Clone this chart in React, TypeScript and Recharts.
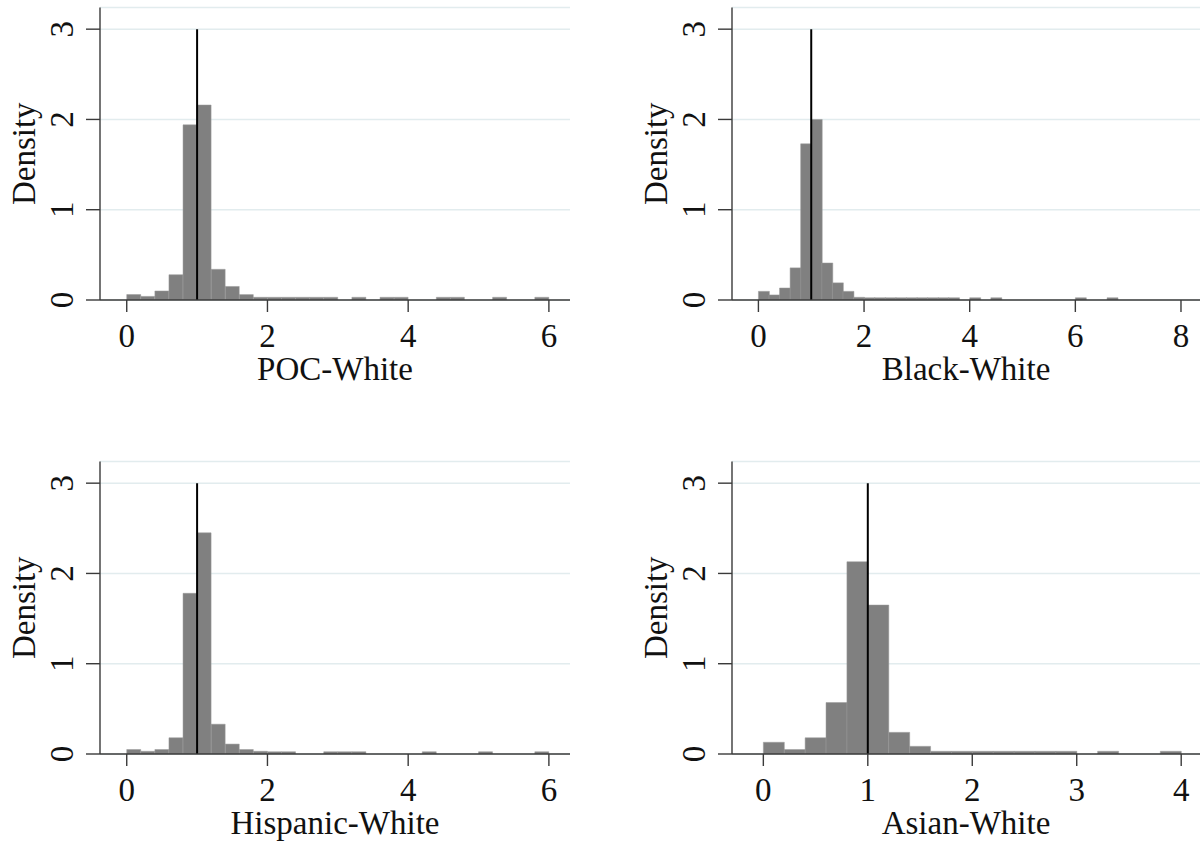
import React from 'react';
import { ComposedChart, Bar, XAxis, YAxis, CartesianGrid, ReferenceLine } from 'recharts';

// bin centres (bin width 0.2)
const binsTo6 = [0.1, 0.3, 0.5, 0.7, 0.9, 1.1, 1.3, 1.5, 1.7, 1.9, 2.1, 2.3, 2.5, 2.7, 2.9, 3.1, 3.3, 3.5, 3.7, 3.9, 4.1, 4.3, 4.5, 4.7, 4.9, 5.1, 5.3, 5.5, 5.7, 5.9];
const binsTo7 = [0.1, 0.3, 0.5, 0.7, 0.9, 1.1, 1.3, 1.5, 1.7, 1.9, 2.1, 2.3, 2.5, 2.7, 2.9, 3.1, 3.3, 3.5, 3.7, 3.9, 4.1, 4.3, 4.5, 4.7, 4.9, 5.1, 5.3, 5.5, 5.7, 5.9, 6.1, 6.3, 6.5, 6.7];
const binsTo4 = [0.1, 0.3, 0.5, 0.7, 0.9, 1.1, 1.3, 1.5, 1.7, 1.9, 2.1, 2.3, 2.5, 2.7, 2.9, 3.1, 3.3, 3.5, 3.7, 3.9];

// densities
const pocWhite = [0.06, 0.04, 0.1, 0.28, 1.94, 2.16, 0.34, 0.15, 0.06, 0.03, 0.03, 0.03, 0.03, 0.03, 0.03, 0, 0.03, 0, 0.03, 0.03, 0, 0, 0.03, 0.03, 0, 0, 0.03, 0, 0, 0.03];
const blackWhite = [0.096, 0.056, 0.133, 0.356, 1.73, 2.0, 0.41, 0.19, 0.096, 0.03, 0.025, 0.025, 0.025, 0.025, 0.025, 0.025, 0.025, 0.025, 0.025, 0, 0.025, 0, 0.025, 0, 0, 0, 0, 0, 0, 0, 0.025, 0, 0, 0.025];
const hispanicWhite = [0.05, 0.03, 0.05, 0.18, 1.78, 2.45, 0.33, 0.11, 0.05, 0.03, 0.025, 0.025, 0, 0, 0.025, 0.025, 0.025, 0, 0, 0, 0, 0.025, 0, 0, 0, 0.025, 0, 0, 0, 0.025];
const asianWhite = [0.13, 0.05, 0.18, 0.57, 2.13, 1.65, 0.24, 0.085, 0.03, 0.03, 0.03, 0.03, 0.03, 0.03, 0.03, 0, 0.03, 0, 0, 0.03];

const yTicks = [0, 1, 2, 3];
const ticksTo6 = [0, 2, 4, 6];
const ticksTo8 = [0, 2, 4, 6, 8];
const ticksTo4 = [0, 1, 2, 3, 4];

const FONT = '"Liberation Serif", "Times New Roman", serif';
const AXIS = '#3a3a3a';

const XTick = (p: any) => (
    <text x={p.x} y={p.y + 33} textAnchor="middle" fontFamily={FONT} fontSize={33} fill="#111">
        {p.payload.value}
    </text>
);

const YTick = (p: any) => {
    const bx = p.x - 11;
    return (
        <text x={bx} y={p.y} transform={`rotate(-90, ${bx}, ${p.y})`} textAnchor="middle"
            fontFamily={FONT} fontSize={33} fill="#111">
            {p.payload.value}
        </text>
    );
};

const xTitle = (text: string) => (props: any) => {
    const vb = props.viewBox || {};
    return (
        <text x={vb.x + vb.width / 2} y={vb.y + 80} textAnchor="middle" fontFamily={FONT} fontSize={33} fill="#111">
            {text}
        </text>
    );
};

const yTitle = (props: any) => {
    const vb = props.viewBox || {};
    const bx = vb.x + vb.width - 65;
    const cy = vb.y + vb.height / 2;
    return (
        <text x={bx} y={cy} transform={`rotate(-90, ${bx}, ${cy})`} textAnchor="middle"
            fontFamily={FONT} fontSize={33} fill="#111">
            Density
        </text>
    );
};

interface PanelProps {
    bins: number[];
    values: number[];
    domain: [number, number];
    ticks: number[];
    title: string;
    left: number;
    top: number;
    width: number;
    right: number;
}

const Panel: React.FC<PanelProps> = ({ bins, values, domain, ticks, title, left, top, width, right }) => {
    const data = bins.map((x, i) => ({ x, d: values[i] }));
    return (
        <div style={{ position: 'absolute', left, top }}>
            <ComposedChart width={width} height={400} data={data} barCategoryGap={0} barGap={0}
                margin={{ top: 7.5, right, bottom: 0, left: 0 }}>
                <CartesianGrid vertical={false} stroke="#e2ecee" strokeWidth={1.5} />
                <XAxis dataKey="x" type="number" domain={domain} ticks={ticks} allowDataOverflow
                    height={100} tickSize={12} tick={XTick} interval={0}
                    axisLine={{ stroke: AXIS, strokeWidth: 1.4 }} tickLine={{ stroke: AXIS, strokeWidth: 1.4 }}
                    label={{ content: xTitle(title) }} />
                <YAxis type="number" domain={[0, 3.24]} ticks={yTicks} allowDataOverflow width={100}
                    tickSize={14} tick={YTick} interval={0}
                    axisLine={{ stroke: AXIS, strokeWidth: 1.4 }} tickLine={{ stroke: AXIS, strokeWidth: 1.4 }}
                    label={{ content: yTitle }} />
                <Bar dataKey="d" fill="#808080" stroke="#9a9a9a" strokeWidth={0.5} isAnimationActive={false} />
                <ReferenceLine segment={[{ x: 1, y: 0 }, { x: 1, y: 3 }]} stroke="#000" strokeWidth={2} />
            </ComposedChart>
        </div>
    );
};

export default function App() {
    return (
        <div style={{ position: 'absolute', left: 0, top: 0, width: 1201, height: 846, overflow: 'hidden', background: '#fff' }}>
            <Panel bins={binsTo6} values={pocWhite} domain={[-0.38, 6.3]} ticks={ticksTo6} title="POC-White"
                left={0} top={0} width={600} right={30} />
            <Panel bins={binsTo7} values={blackWhite} domain={[-0.5, 8.36]} ticks={ticksTo8} title="Black-White"
                left={632} top={0} width={570} right={2} />
            <Panel bins={binsTo6} values={hispanicWhite} domain={[-0.38, 6.3]} ticks={ticksTo6} title="Hispanic-White"
                left={0} top={454} width={600} right={30} />
            <Panel bins={binsTo4} values={asianWhite} domain={[-0.3, 4.18]} ticks={ticksTo4} title="Asian-White"
                left={632} top={454} width={570} right={2} />
        </div>
    );
}
